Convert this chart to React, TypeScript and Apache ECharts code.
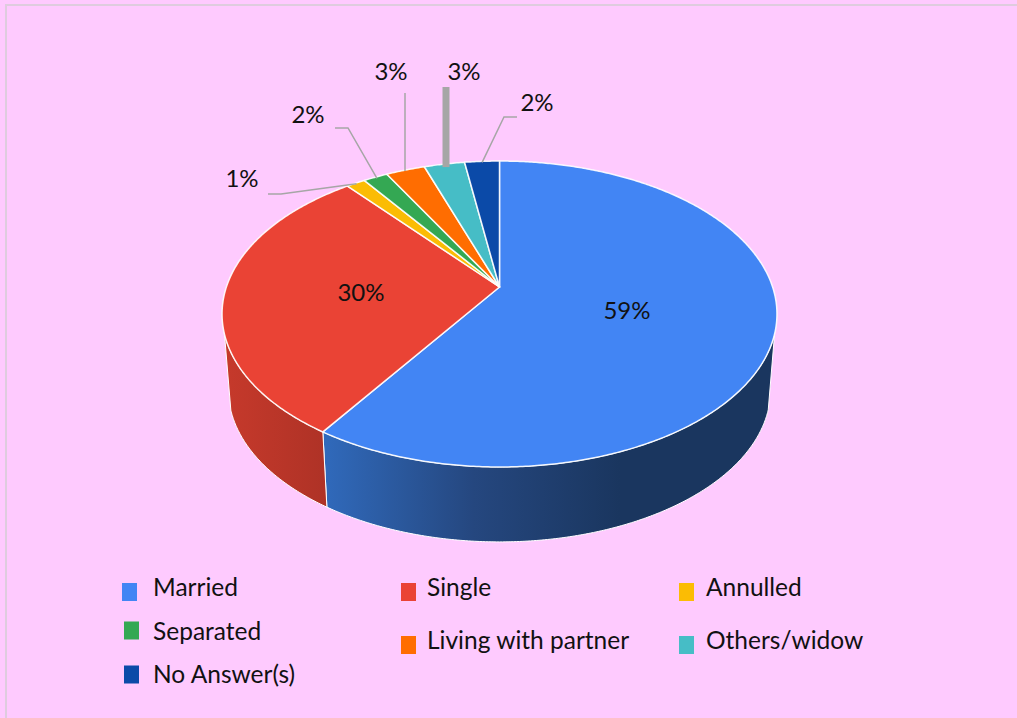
import React, { useEffect, useRef } from "react";
import * as echarts from "echarts";

const categories = ["Married", "Single", "Annulled", "Separated", "Living with partner", "Others/widow", "No Answer(s)"];
const shares = [59.3, 29.8, 1.3, 1.7, 2.7, 2.8, 2.4];
const colors = ["#4285F4", "#EA4335", "#FBBC04", "#34A853", "#FF6D01", "#46BDC6", "#0B4AA8"];

const FONT = "Lato";
const TEXT = "#111111";
const APEX = { x: 499.5, y: 287 };
const A = 273.1;
const B = 148.2;
const P = -0.1765;
const TOP_C = { x: 499.5, y: 314 };
const BOT_C = { x: 499.5, y: 390 };
const BOT_SX = 0.977;
const BOT_SY = 0.993;
const WALL_MIN_Y = 334;

const total = shares.reduce((a, b) => a + b, 0);

// label centre, leader start points (leader ends on the rim at mid-angle)
const labelLayouts: any[] = [
  { label: [627, 309] },
  { label: [361, 291] },
  { label: [242, 177.5], leader: [[268, 194], [281, 194]], inset: 1 },
  { label: [308, 113], leader: [[335, 128], [348, 128]], inset: 2 },
  { label: [391, 70], leader: [[405, 93]], vertical: true, inset: 1 },
  { label: [464, 70], leader: [[446, 87]], vertical: true, inset: 3, width: 7 },
  { label: [537, 101.5], leader: [[517, 117], [504, 117]], inset: 1 },
];

const wallGradients: any[] = [
  { x: 327, x2: 620, stops: [["0", "#3069BA"], ["0.5", "#25477F"], ["1", "#1A365F"]] },
  { x: 229, x2: 328, stops: [["0", "#C5392B"], ["1", "#AE3226"]] },
];

// lift: how far the legend text sits above its default place beside the swatch
const SWATCH_W = 15;
const SWATCH_H = 18;
const legendLayouts = [
  { left: 122, swatchTop: 583, lift: 6, gap: 11 },
  { left: 401, swatchTop: 583, lift: 6, gap: 6 },
  { left: 679, swatchTop: 583, lift: 6, gap: 7 },
  { left: 124, swatchTop: 618, lift: 0, gap: 9 },
  { left: 401, swatchTop: 636, lift: 6, gap: 6 },
  { left: 679, swatchTop: 636, lift: 6, gap: 7 },
  { left: 124, swatchTop: 663, lift: 1, gap: 9 },
];

function swatchIcon(lift: number) {
  const h = SWATCH_H + 2 * lift;
  return `path://M0 0L0 0M0 ${2 * lift}H${SWATCH_W}V${h}H0Z`;
}

function rim(frac: number) {
  const t = frac * Math.PI * 2;
  const u = Math.sin(t);
  const v = -Math.cos(t);
  const w = 1 + P * v;
  return [APEX.x + (A * u) / w, APEX.y + (B * v) / w];
}

function bottom(pt: number[]) {
  return [BOT_C.x + (pt[0] - TOP_C.x) * BOT_SX, BOT_C.y + (pt[1] - TOP_C.y) * BOT_SY];
}

function renderSlice(index: number) {
  return (_params: any, api: any) => {
    const before = shares.slice(0, index).reduce((a, b) => a + b, 0);
    const value = api.value(0) as number;
    const start = before / total;
    const end = (before + value) / total;
    const n = Math.max(4, Math.ceil((end - start) * 720));
    const arc: number[][] = [];
    for (let i = 0; i <= n; i++) arc.push(rim(start + ((end - start) * i) / n));

    const children: any[] = [];
    const front = arc.filter((p) => p[1] >= WALL_MIN_Y);
    const g = wallGradients[index];
    if (front.length > 1 && g) {
      const lower = front.map(bottom).reverse();
      children.push({
        type: "polygon",
        shape: { points: [...front, ...lower] },
        style: {
          fill: {
            type: "linear",
            x: g.x,
            y: 0,
            x2: g.x2,
            y2: 0,
            global: true,
            colorStops: g.stops.map((s: string[]) => ({ offset: Number(s[0]), color: s[1] })),
          },
          stroke: "#FFFFFF",
          lineWidth: 1,
        },
      });
    }
    children.push({
      type: "polygon",
      shape: { points: [[APEX.x, APEX.y], ...arc] },
      style: { fill: colors[index], stroke: "rgba(255,255,255,0.9)", lineWidth: 1.5, lineJoin: "round" },
    });

    const layout = labelLayouts[index];
    if (layout.leader) {
      const m = rim((start + end) / 2);
      const inset = layout.inset || 0;
      const dx = APEX.x - m[0];
      const dy = APEX.y - m[1];
      const d = Math.hypot(dx, dy);
      const last = layout.vertical
        ? [layout.leader[0][0], m[1] + inset]
        : [m[0] + (dx / d) * inset, m[1] + (dy / d) * inset];
      children.push({
        type: "polyline",
        shape: { points: [...layout.leader, last] },
        style: { fill: "none", stroke: "#A6A6A6", lineWidth: layout.width || 1.5 },
      });
    }
    children.push({
      type: "text",
      style: {
        text: Math.round((value / total) * 100) + "%",
        x: layout.label[0],
        y: layout.label[1],
        align: "center",
        verticalAlign: "middle",
        fontFamily: FONT,
        fontSize: 24,
        fill: TEXT,
      },
    });
    return { type: "group", children };
  };
}

export default function App() {
  const ref = useRef<HTMLDivElement>(null);
  useEffect(() => {
    document.body.style.margin = "0";
    const chart = echarts.init(ref.current!, undefined, { renderer: "svg" });
    chart.setOption({
      animation: false,
      backgroundColor: "#FECAFE",
      color: colors,
      tooltip: { show: false },
      graphic: [
        {
          type: "polyline",
          silent: true,
          shape: { points: [[6, 718], [6, 5], [1017, 5]] },
          style: { fill: "none", stroke: "#DECCDE", lineWidth: 2 },
        },
      ],
      legend: categories.map((name, i) => {
        const l = legendLayouts[i];
        return {
          show: true,
          data: [name],
          left: l.left,
          top: l.swatchTop - 2 * l.lift,
          padding: 0,
          icon: swatchIcon(l.lift),
          itemWidth: SWATCH_W,
          itemHeight: SWATCH_H + 2 * l.lift,
          selectedMode: false,
          textStyle: {
            fontFamily: FONT,
            fontSize: 24.5,
            color: TEXT,
            padding: [0, 0, 0, l.gap],
          },
        };
      }),
      series: categories.map((name, i) => ({
        type: "custom",
        name,
        coordinateSystem: "none",
        silent: true,
        itemStyle: { color: colors[i] },
        data: [shares[i]],
        renderItem: renderSlice(i),
      })),
    });
    return () => chart.dispose();
  }, []);
  return <div ref={ref} style={{ width: 1017, height: 718, display: "block" }} />;
}
